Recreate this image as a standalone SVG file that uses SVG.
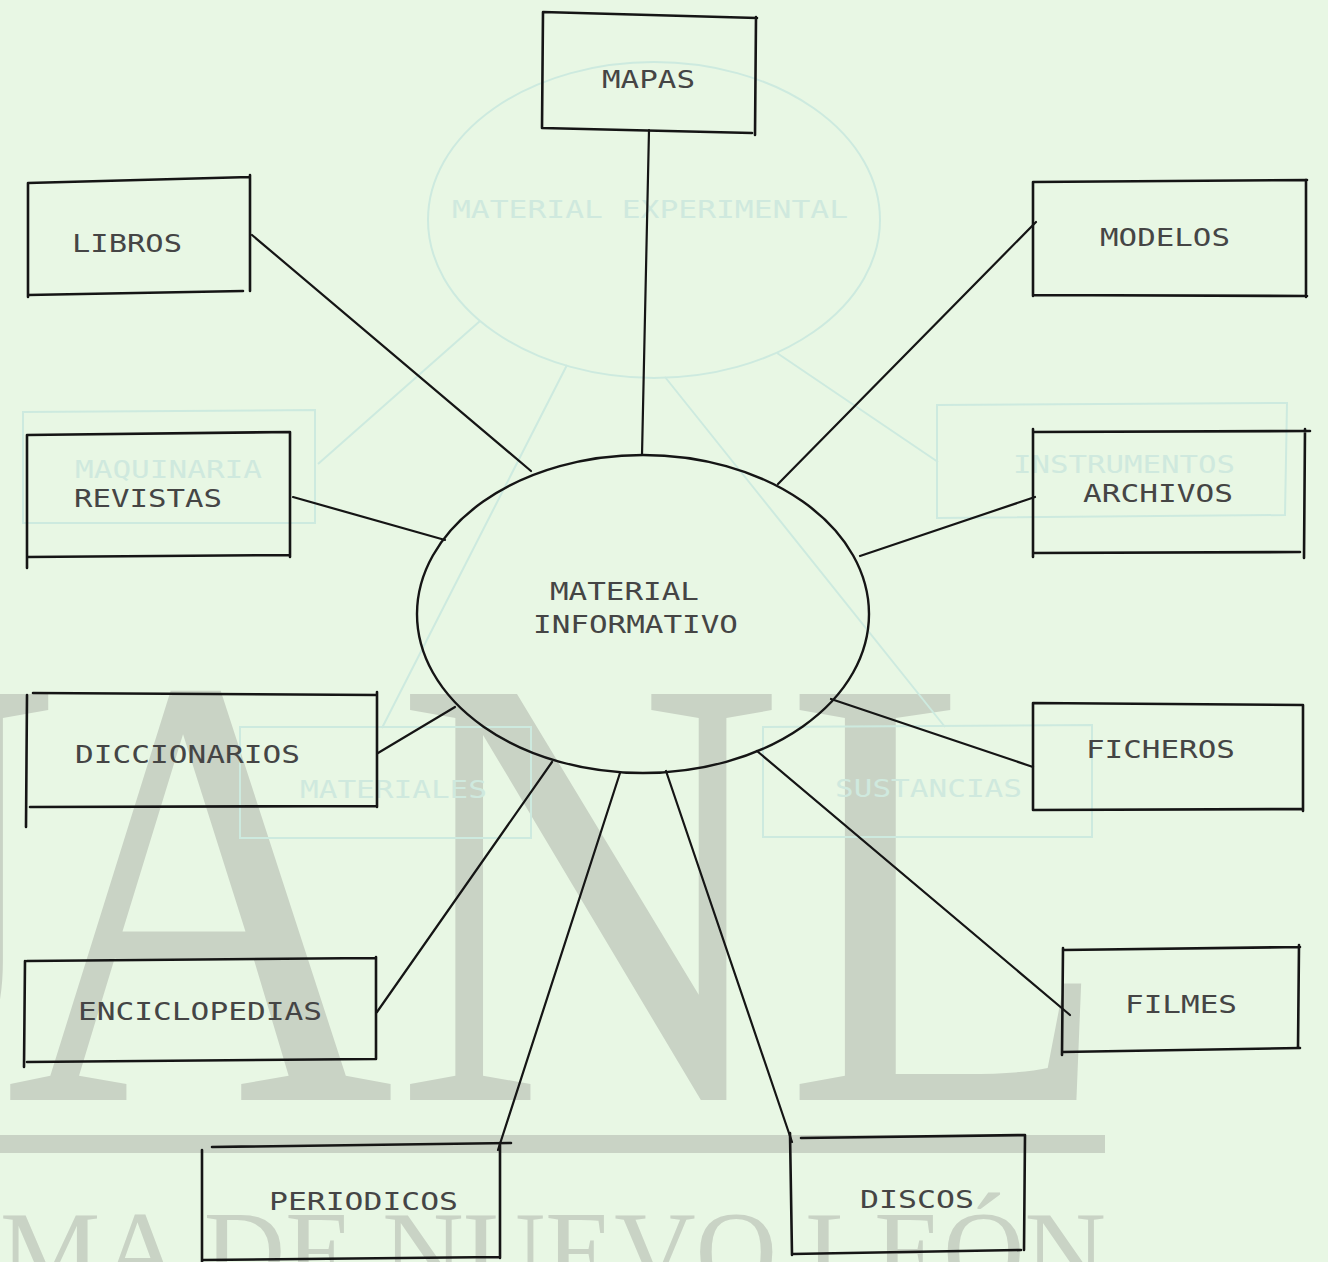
<svg xmlns="http://www.w3.org/2000/svg" width="1328" height="1262" viewBox="0 0 1328 1262">
<defs>
<style>
.bg{fill:#e8f7e4}
.wm{fill:#c9d3c5;font-family:"Liberation Serif","Times New Roman",serif}
.gh{fill:none;stroke:#cdeadf;stroke-width:2}
.ght{fill:#cfe9de;font-family:"DejaVu Sans Mono",monospace;font-size:25px}
.ln{fill:none;stroke:#151515;stroke-width:2.2;stroke-linecap:round}
.bx{fill:none;stroke:#151515;stroke-width:2.6;stroke-linecap:round}
.lb{fill:#454545;font-family:"DejaVu Sans Mono","Liberation Mono",monospace;font-size:25px}
</style>
</defs>
<rect class="bg" x="0" y="0" width="1328" height="1262"/>
<g id="watermark">
<text class="wm" transform="translate(-330,1100) scale(0.87,1)" font-size="620">U</text>
<text class="wm" transform="translate(5,1100) scale(0.87,1)" font-size="620">ANL</text>
<rect x="0" y="1135" width="1105" height="18" fill="#c9d3c5"/>
<text class="wm" x="0" y="1289" font-size="112" textLength="1106" lengthAdjust="spacingAndGlyphs">MA DE NUEVO LEÓN</text>
</g>
<g id="ghost">
<ellipse class="gh" cx="654" cy="220" rx="226" ry="158"/>
<text class="ght" x="452" y="218" textLength="396" lengthAdjust="spacingAndGlyphs">MATERIAL EXPERIMENTAL</text>
<path class="gh" d="M23,412 L315,410 L315,523 L23,523 Z"/>
<text class="ght" x="75" y="478" textLength="187" lengthAdjust="spacingAndGlyphs">MAQUINARIA</text>
<path class="gh" d="M937,405 L1287,403 L1285,515 L937,518 Z"/>
<text class="ght" x="1013" y="473" textLength="222" lengthAdjust="spacingAndGlyphs">INSTRUMENTOS</text>
<path class="gh" d="M240,727 L531,727 L531,838 L240,838 Z"/>
<text class="ght" x="300" y="798" textLength="187" lengthAdjust="spacingAndGlyphs">MATERIALES</text>
<path class="gh" d="M763,727 L1092,725 L1092,837 L763,837 Z"/>
<text class="ght" x="835" y="797" textLength="187" lengthAdjust="spacingAndGlyphs">SUSTANCIAS</text>
<path class="gh" d="M480,321 L318,464 M567,365 L382,728 M665,377 L945,727 M777,353 L938,462"/>
</g>
<g id="connectors">
<path class="ln" d="M649,130 L642,455"/>
<path class="ln" d="M252,235 L531,471"/>
<path class="ln" d="M1036,222 L778,484"/>
<path class="ln" d="M293,497 L445,540"/>
<path class="ln" d="M1035,497 L860,556"/>
<path class="ln" d="M378,753 L455,707"/>
<path class="ln" d="M1033,767 L831,699"/>
<path class="ln" d="M377,1012 L552,762"/>
<path class="ln" d="M498,1150 L620,773"/>
<path class="ln" d="M792,1142 L666,771"/>
<path class="ln" d="M1070,1015 L757,751"/>
</g>
<g id="center">
<ellipse cx="643" cy="614" rx="226" ry="159" fill="none" stroke="#151515" stroke-width="2.4"/>
<text class="lb" x="550" y="600" textLength="149" lengthAdjust="spacingAndGlyphs">MATERIAL</text>
<text class="lb" x="533" y="633" textLength="205" lengthAdjust="spacingAndGlyphs">INFORMATIVO</text>
</g>
<g id="mapas">
<path class="bx" d="M543,12 L757,18 M543,12 L542,128 M542,128 L752,133 M756,17 L755,135"/>
<text class="lb" x="602" y="88" textLength="93" lengthAdjust="spacingAndGlyphs">MAPAS</text>
</g>
<g id="libros">
<path class="bx" d="M28,183 L250,177 M28,183 L28,297 M28,295 L243,291 M250,175 L250,291"/>
<text class="lb" x="72" y="252" textLength="110" lengthAdjust="spacingAndGlyphs">LIBROS</text>
</g>
<g id="modelos">
<path class="bx" d="M1033,182 L1307,180 M1033,182 L1033,296 M1033,295 L1307,296 M1306,180 L1306,297"/>
<text class="lb" x="1100" y="246" textLength="130" lengthAdjust="spacingAndGlyphs">MODELOS</text>
</g>
<g id="revistas">
<path class="bx" d="M27,435 L290,432 M27,435 L27,568 M27,557 L290,555 M290,432 L290,557"/>
<text class="lb" x="74" y="507" textLength="148" lengthAdjust="spacingAndGlyphs">REVISTAS</text>
</g>
<g id="archivos">
<path class="bx" d="M1033,432 L1310,431 M1033,429 L1033,557 M1033,553 L1300,552 M1305,429 L1304,558"/>
<text class="lb" x="1083" y="502" textLength="150" lengthAdjust="spacingAndGlyphs">ARCHIVOS</text>
</g>
<g id="diccionarios">
<path class="bx" d="M33,693 L377,695 M27,695 L26,827 M30,807 L377,806 M377,692 L377,807"/>
<text class="lb" x="75" y="763" textLength="225" lengthAdjust="spacingAndGlyphs">DICCIONARIOS</text>
</g>
<g id="ficheros">
<path class="bx" d="M1033,703 L1303,705 M1033,703 L1033,810 M1033,810 L1302,809 M1303,705 L1303,811"/>
<text class="lb" x="1086" y="758" textLength="149" lengthAdjust="spacingAndGlyphs">FICHEROS</text>
</g>
<g id="enciclopedias">
<path class="bx" d="M27,961 L375,958 M25,961 L24,1067 M27,1062 L375,1059 M376,957 L376,1059"/>
<text class="lb" x="78" y="1020" textLength="244" lengthAdjust="spacingAndGlyphs">ENCICLOPEDIAS</text>
</g>
<g id="filmes">
<path class="bx" d="M1063,950 L1300,947 M1063,948 L1062,1055 M1062,1052 L1300,1048 M1299,945 L1298,1048"/>
<text class="lb" x="1125" y="1013" textLength="112" lengthAdjust="spacingAndGlyphs">FILMES</text>
</g>
<g id="periodicos">
<path class="bx" d="M212,1147 L511,1143 M202,1150 L202,1262 M203,1260 L500,1257 M500,1143 L500,1258"/>
<text class="lb" x="269" y="1210" textLength="189" lengthAdjust="spacingAndGlyphs">PERIODICOS</text>
</g>
<g id="discos">
<path class="bx" d="M801,1138 L1025,1135 M790,1133 L792,1255 M792,1254 L1021,1250 M1025,1135 L1024,1250"/>
<text class="lb" x="860" y="1208" textLength="114" lengthAdjust="spacingAndGlyphs">DISCOS</text>
</g>
</svg>
